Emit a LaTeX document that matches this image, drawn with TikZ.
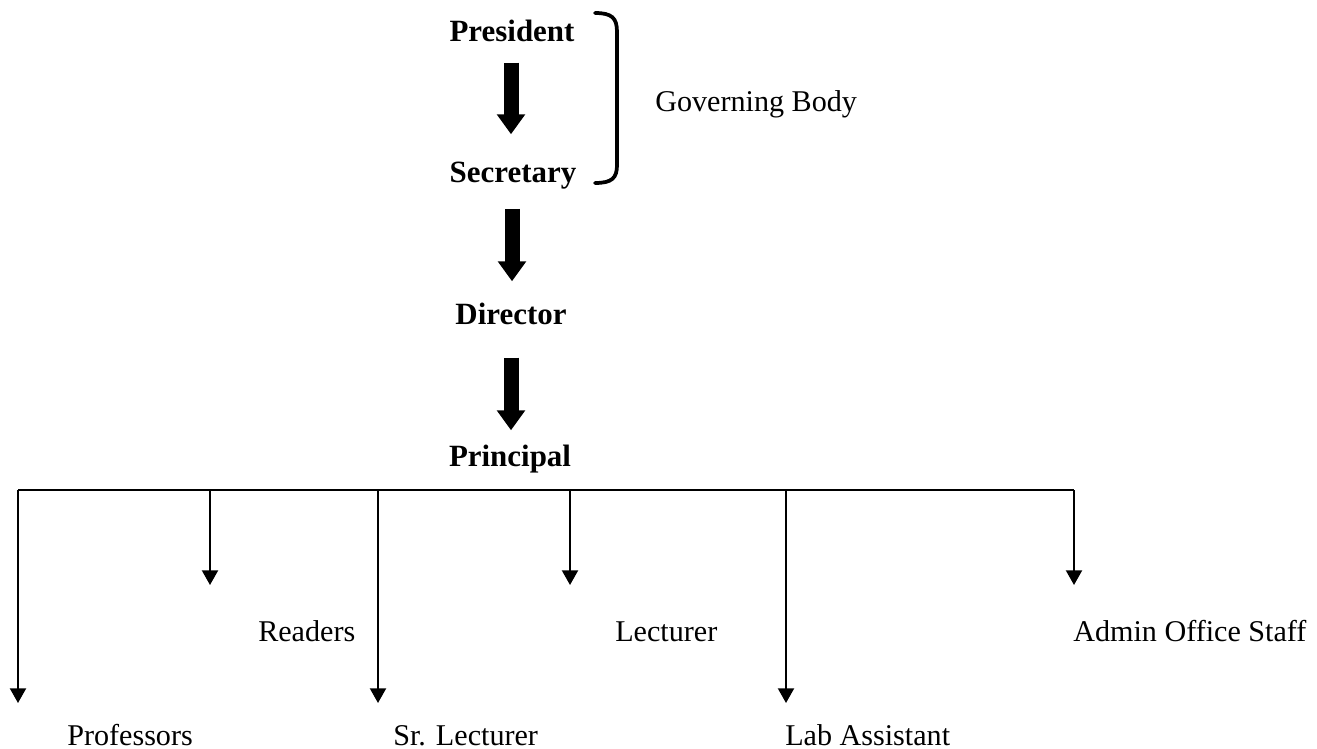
\documentclass[tikz,border=0pt]{standalone}
\usepackage{fontspec}
\setmainfont{Liberation Serif}
\usetikzlibrary{arrows.meta,calc}
\tikzset{
  lbl/.style={inner sep=0pt, anchor=base west, font=\fontsize{22.6}{26}\selectfont},
  head/.style={inner sep=0pt, anchor=base, font=\fontsize{23.2}{26}\selectfont\bfseries},
  bigarrow/.style={line width=11.25pt, -{Triangle[width=20.5pt,length=15pt]}},
  bus/.style={line width=1.5pt},
  branch/.style={line width=1.5pt, -{Triangle[width=12pt,length=11pt]}},
  bracket/.style={line width=2.8pt, line cap=round}
}
\begin{document}
\begin{tikzpicture}[x=0.75pt,y=-0.75pt]
\useasboundingbox (0,0) rectangle (1317,749);
% heads
\node[head] (pres) at (512,42) {President};
\node[head] (sec) at (513,182) {Secretary};
\node[head] (dir) at (511,324) {Director};
\node[head] (prin) at (510,466) {Principal};
\node[lbl] (gov) at (655,112) {Governing Body};
% thick arrows
\draw[bigarrow] ($(pres.south)+(-1,20)$) -- ($(sec.north)+(-2,-27)$);
\draw[bigarrow] ($(sec.south)+(-1,20)$) -- ($(dir.north)+(1,-21)$);
\draw[bigarrow] ($(dir.south)+(0,33)$) -- ($(prin.north)+(1,-14)$);
% bracket
\draw[bracket] (595,13) .. controls (612,13) and (617,18) .. (617,32)
  -- (617,165) .. controls (617,178) and (612,183) .. (595,183);
% staff labels
\node[lbl] (prof) at (67,745) {Professors};
\node[lbl] (read) at (258,641) {Readers};
\node[lbl] (srl) at (393,745) {Sr. Lecturer};
\node[lbl] (lect) at (615,641) {Lecturer};
\node[lbl] (lab) at (785,745) {Lab Assistant};
\node[lbl] (admin) at (1073,641) {Admin Office Staff};
% bus
\coordinate (b1) at (18,490);
\coordinate (b2) at (210,490);
\coordinate (b3) at (378,490);
\coordinate (b4) at (570,490);
\coordinate (b5) at (786,490);
\coordinate (b6) at (1074,490);
\coordinate (t1) at (18,703);
\coordinate (t2) at (210,585);
\coordinate (t3) at (378,703);
\coordinate (t4) at (570,585);
\coordinate (t5) at (786,703);
\coordinate (t6) at (1074,585);
\draw[bus] (b1) -- (b6);
\draw[branch] (b1) -- (t1);
\draw[branch] (b2) -- (t2);
\draw[branch] (b3) -- (t3);
\draw[branch] (b4) -- (t4);
\draw[branch] (b5) -- (t5);
\draw[branch] (b6) -- (t6);
\end{tikzpicture}
\end{document}
